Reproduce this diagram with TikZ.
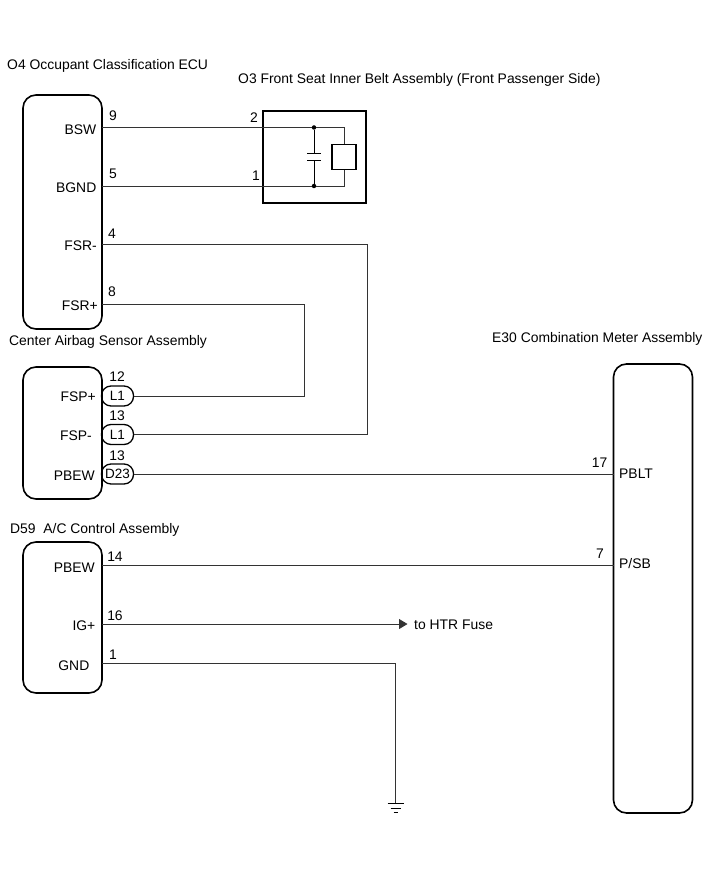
\documentclass[tikz,border=0pt]{standalone}
\usepackage{fontspec}
\setmainfont{Liberation Sans}
\usepackage{tikz}
\usetikzlibrary{arrows.meta}

\begin{document}
\begin{tikzpicture}[x=1pt, y=-1pt]
    \tikzstyle{module} = [rectangle, draw, line width=1.6pt, rounded corners=13pt, inner sep=0pt, minimum width=79pt]
    \tikzstyle{conn} = [rectangle, draw, line width=1.3pt, rounded corners=9.5pt, inner sep=0pt, minimum width=32pt, minimum height=20pt, font=\fontsize{13.5}{15}\selectfont]
    \tikzstyle{wire} = [draw, line width=0.8pt, black!80]
    \tikzstyle{title} = [anchor=west, inner sep=0pt, yshift=-1pt, font=\fontsize{13.9}{16}\selectfont]
    \tikzstyle{sig} = [anchor=east, inner sep=0pt, yshift=-1pt, font=\fontsize{13.9}{16}\selectfont]
    \tikzstyle{sigr} = [anchor=west, inner sep=0pt, yshift=-1pt, font=\fontsize{13.9}{16}\selectfont]
    \tikzstyle{pinno} = [inner sep=0pt, font=\fontsize{13.9}{16}\selectfont]
    \tikzstyle{jdot} = [circle, fill=black, inner sep=0pt, minimum size=4.5pt]

    \useasboundingbox (0,0) rectangle (713,882);

    % Titles
    \node[title] (t_ecu) at (7,65) {O4 Occupant Classification ECU};
    \node[title] (t_belt) at (238,79) {O3 Front Seat Inner Belt Assembly (Front Passenger Side)};
    \node[title] (t_air) at (9,341) {Center Airbag Sensor Assembly};
    \node[title] (t_meter) at (492,338) {E30 Combination Meter Assembly};
    \node[title] (t_ac) at (10,529) {D59\ \ A/C Control Assembly};

    % Modules
    \node[module, minimum height=234pt] (ecu) at (62.5,212) {};
    \node[module, minimum height=132pt] (air) at (62.5,433) {};
    \node[module, minimum height=151pt] (ac) at (62.5,617.5) {};
    \node[module, minimum height=449pt] (meter) at (653,588.5) {};
    \node[draw, line width=1.6pt, minimum width=103pt, minimum height=92pt, inner sep=0pt] (belt) at (314.5,157) {};

    % Belt assembly inside
    \node[draw, line width=1.4pt, minimum width=24pt, minimum height=25pt, inner sep=0pt] (sw) at (344,157) {};
    \node[jdot] (j1) at (314,127.5) {};
    \node[jdot] (j2) at (314,186) {};
    \coordinate (cap1) at (314,153);
    \coordinate (cap2) at (314,160.5);
    \draw[line width=0.8pt] (j1) -- (cap1);
    \draw[line width=0.8pt] (cap2) -- (j2);
    \draw[line width=0.8pt] (307,153) -- (321,153);
    \draw[line width=0.8pt] (307,160.5) -- (321,160.5);
    \draw[wire] (j1) -| (sw.north);
    \draw[wire] (j2) -| (sw.south);

    % Connectors
    \node[conn] (l1a) at (117.5,396) {L1};
    \node[conn] (l1b) at (117.5,434.5) {L1};
    \node[conn] (d23) at (117.5,474) {D23};

    % Pins
    \coordinate (bsw) at (102,127.5);
    \coordinate (bgnd) at (102,186);
    \coordinate (fsrm) at (102,244);
    \coordinate (fsrp) at (102,304);
    \coordinate (bend1) at (367.5,244);
    \coordinate (bend2) at (304,304);
    \coordinate (pblt) at (614,474);
    \coordinate (pbew) at (102,565);
    \coordinate (psb) at (614,565);
    \coordinate (igp) at (102,624);
    \coordinate (fuse) at (407.5,624);
    \coordinate (gnd) at (102,663);
    \coordinate (earth) at (395.5,803);

    % Wires
    \draw[wire] (bsw) -- (j1);
    \draw[wire] (bgnd) -- (j2);
    \draw[wire] (fsrm) -- (bend1) |- (l1b.east);
    \draw[wire] (fsrp) -- (bend2) |- (l1a.east);
    \draw[wire] (d23.east) -- (pblt);
    \draw[wire] (pbew) -- (psb);
    \draw[wire, -{Triangle[length=8.5pt,width=10pt]}] (igp) -- (fuse);
    \draw[wire] (gnd) -| (earth);
    \node[sigr] (t_fuse) at (414,624) {to HTR Fuse};

    % Ground
    \draw[line width=1pt] (387.5,803.5) -- (403.5,803.5);
    \draw[line width=0.6pt] (390.5,808) -- (400.5,808);
    \draw[line width=0.6pt] (393.5,812) -- (397.5,812);

    % Signal names
    \node[sig] (s_bsw) at (96.5,129) {BSW};
    \node[sig] (s_bgnd) at (96.5,187) {BGND};
    \node[sig] (s_fsrm) at (97,245) {FSR-};
    \node[sig] (s_fsrp) at (98,305) {FSR+};
    \node[sig] (s_fspp) at (96,396) {FSP+};
    \node[sig] (s_fspm) at (92,435) {FSP-};
    \node[sig] (s_pbew) at (95,475) {PBEW};
    \node[sig] (s_pbew2) at (95,567) {PBEW};
    \node[sig] (s_igp) at (95.5,625) {IG+};
    \node[sig] (s_gnd) at (89.5,665) {GND};
    \node[sigr] (s_pblt) at (619,473) {PBLT};
    \node[sigr] (s_psb) at (619,563) {P/SB};

    % Pin numbers
    \node[pinno] (n1) at (113,115.5) {9};
    \node[pinno] (n2) at (113,174) {5};
    \node[pinno] (n3) at (112,234) {4};
    \node[pinno] (n4) at (112,292) {8};
    \node[pinno] (n5) at (254,118) {2};
    \node[pinno] (n6) at (256,176) {1};
    \node[pinno] (n7) at (117,377) {12};
    \node[pinno] (n8) at (117,416) {13};
    \node[pinno] (n9) at (117,456) {13};
    \node[pinno] (n10) at (599.5,462.5) {17};
    \node[pinno] (n11) at (600,553.5) {7};
    \node[pinno] (n12) at (115,557) {14};
    \node[pinno] (n13) at (115,615.5) {16};
    \node[pinno] (n14) at (113,654.5) {1};
\end{tikzpicture}
\end{document}
